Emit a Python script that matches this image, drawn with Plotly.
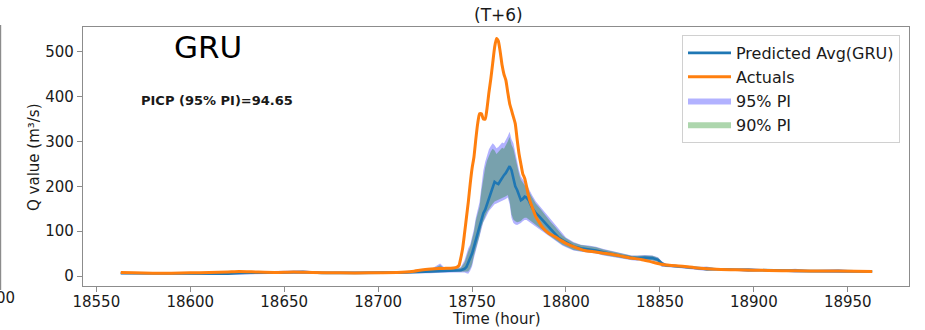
import plotly.graph_objects as go

# ---------------- data ----------------
hours_actual = [18563, 18570, 18580, 18590, 18600, 18610, 18620, 18626, 18635, 18645,
                18655, 18665, 18680, 18695, 18710, 18718, 18724, 18730, 18735, 18740,
                18742, 18743, 18744, 18745, 18746, 18747, 18748, 18749, 18750, 18751,
                18752, 18753, 18754, 18755, 18756, 18757, 18758, 18759, 18760, 18761,
                18762, 18763, 18764, 18765, 18766, 18767, 18768, 18769, 18770, 18771,
                18772, 18773, 18774, 18775, 18776, 18777, 18778, 18779, 18780, 18781,
                18782, 18784, 18786, 18788, 18791, 18794, 18797, 18800, 18805, 18810,
                18815, 18820, 18825, 18830, 18835, 18840, 18845, 18850, 18855, 18862,
                18870, 18880, 18890, 18900, 18915, 18930, 18945, 18963]
actual = [8, 7, 6, 6, 7, 8, 9, 10, 9, 8,
          9, 8, 7, 7, 8, 10, 14, 16, 17, 18,
          20, 23, 40, 62, 95, 130, 165, 205, 240, 265,
          305, 340, 362, 362, 350, 350, 375, 410, 440, 475,
          510, 530, 524, 500, 470, 450, 437, 410, 385, 370,
          355, 340, 305, 273, 250, 228, 218, 200, 180, 165,
          154, 132, 118, 106, 95, 88, 80, 73, 64, 57,
          54, 51, 48, 44, 40, 37, 32, 27, 24, 22,
          18, 15, 14, 13, 12, 11, 11, 10]

hours_pred = [18563, 18575, 18590, 18600, 18612, 18620, 18626, 18632, 18640, 18650,
              18660, 18670, 18690, 18705, 18715, 18722, 18728, 18733, 18736, 18740,
              18744, 18746, 18747, 18748, 18749, 18750, 18751, 18752, 18753, 18754,
              18755, 18756, 18757, 18758, 18759, 18760, 18761, 18762, 18763, 18764,
              18765, 18766, 18767, 18768, 18769, 18770, 18771, 18772, 18773, 18774,
              18775, 18776, 18777, 18778, 18779, 18780, 18782, 18784, 18786, 18788,
              18790, 18792, 18794, 18796, 18798, 18800, 18804, 18808, 18812, 18816,
              18820, 18825, 18830, 18835, 18838, 18842, 18846, 18849, 18851, 18853,
              18860, 18870, 18875, 18880, 18890, 18897, 18905, 18915, 18922, 18930,
              18945, 18955, 18963]
pred_mean = [6, 6, 5, 6, 5, 5, 7, 7, 8, 8,
             9, 7, 7, 7, 8, 9, 10, 12, 12, 12,
             13, 16, 20, 30, 40, 50, 65, 80, 100, 112,
             128, 140, 148, 160, 172, 188, 200, 210, 207, 205,
             212, 220, 225, 230, 238, 245, 236, 215, 200, 192,
             180, 169, 172, 177, 175, 170, 152, 140, 132, 122,
             112, 104, 95, 86, 80, 75, 66, 62, 60, 57,
             53, 48, 44, 41, 40, 41, 40, 36, 28, 24,
             21, 17, 16, 15, 14, 13, 13, 12, 12, 11,
             11, 10, 10]
lower_95 = [4, 4, 3, 4, 2, 2, 3, 4, 5, 5,
            5, 5, 5, 5, 6, 6, 6, 7, 8, 8,
            8, 8, 6, 5, 12, 21, 40, 55, 70, 85,
            105, 120, 128, 138, 145, 150, 155, 160, 162, 164,
            166, 168, 169, 172, 175, 160, 130, 118, 115, 114,
            116, 118, 122, 125, 125, 122, 115, 110, 104, 98,
            91, 85, 78, 72, 68, 64, 57, 54, 52, 50,
            46, 42, 38, 35, 34, 35, 34, 31, 20, 20,
            18, 14, 11, 13, 12, 9, 11, 10, 8, 9,
            7, 8, 8]
upper_95 = [8, 8, 7, 8, 8, 9, 12, 10, 11, 11,
            13, 9, 9, 9, 10, 12, 15, 28, 16, 17,
            20, 35, 50, 62, 70, 85, 105, 130, 150, 165,
            200, 235, 255, 270, 283, 290, 296, 292, 285, 288,
            292, 298, 296, 303, 312, 322, 305, 296, 275, 255,
            236, 222, 215, 210, 205, 196, 180, 166, 156, 145,
            135, 124, 114, 104, 94, 86, 76, 70, 68, 65,
            60, 55, 50, 46, 46, 47, 46, 42, 33, 28,
            24, 20, 21, 17, 16, 18, 15, 14, 16, 13,
            15, 12, 12]
lower_90 = [4.5, 4.5, 3.5, 4.5, 3, 3, 4, 5, 6, 6,
            6, 5.5, 5.5, 5.5, 6.5, 7, 7, 8, 9, 9,
            9, 10, 9, 10, 16, 26, 46, 60, 75, 90,
            110, 124, 133, 143, 150, 156, 161, 166, 168, 170,
            172, 174, 175, 178, 181, 167, 137, 126, 122, 120,
            121, 123, 127, 130, 130, 127, 119, 114, 108, 101,
            94, 88, 81, 74, 70, 66, 58, 55, 53, 51,
            47, 43, 39, 36, 35, 36, 35, 32, 22, 21,
            19, 15, 12, 13.5, 12.5, 10, 11.5, 10.5, 9, 9.5,
            8, 8.5, 8.5]
upper_90 = [7.5, 7.5, 6.5, 7.5, 7, 8, 11, 9, 10, 10,
            12, 8.5, 8.5, 8.5, 9.5, 11, 14, 24, 15, 16,
            18, 30, 45, 55, 65, 80, 98, 124, 142, 155,
            190, 222, 242, 258, 270, 278, 284, 280, 272, 276,
            280, 286, 284, 291, 300, 310, 293, 284, 264, 245,
            228, 215, 209, 204, 199, 191, 175, 161, 152, 141,
            131, 120, 111, 101, 91, 84, 74, 69, 67, 64,
            59, 54, 49, 45, 45, 46, 45, 41, 32, 27,
            23, 19, 20, 16.5, 15.5, 17, 14.5, 13.5, 15, 12.5,
            14, 11.5, 11.5]

x_ticks = [18550, 18600, 18650, 18700, 18750, 18800, 18850, 18900, 18950]
y_ticks = [0, 100, 200, 300, 400, 500]

# ---------------- styling / layout ----------------
W, H = 925, 330
L, R, T, B = 83, 16, 27, 44
PW, PH = W - L - R, H - T - B
FONT = "DejaVu Sans"
TXT = "#1a1a1a"
SPINE = "#8c8c8c"


def px2paper_x(px):
    return (px - L) / PW


def px2paper_y(py):
    return (H - B - py) / PH


fig = go.Figure()

# 95% PI band
fig.add_trace(go.Scatter(x=hours_pred, y=lower_95, mode="lines", line=dict(width=0),
                         showlegend=False, hoverinfo="skip"))
fig.add_trace(go.Scatter(x=hours_pred, y=upper_95, mode="lines", line=dict(width=0),
                         fill="tonexty", fillcolor="rgba(0,0,255,0.30)",
                         name="95% PI", legendrank=3))
# 90% PI band
fig.add_trace(go.Scatter(x=hours_pred, y=lower_90, mode="lines", line=dict(width=0),
                         showlegend=False, hoverinfo="skip"))
fig.add_trace(go.Scatter(x=hours_pred, y=upper_90, mode="lines", line=dict(width=0),
                         fill="tonexty", fillcolor="rgba(0,128,0,0.32)",
                         name="90% PI", legendrank=4))
# mean prediction
fig.add_trace(go.Scatter(x=hours_pred, y=pred_mean, mode="lines",
                         line=dict(color="#1f77b4", width=2.6),
                         name="Predicted Avg(GRU)", legendrank=1))
# actuals
fig.add_trace(go.Scatter(x=hours_actual, y=actual, mode="lines",
                         line=dict(color="#ff7f0e", width=3, shape="spline", smoothing=0.5),
                         name="Actuals", legendrank=2))

axis_common = dict(
    showgrid=False, zeroline=False, showline=True, linecolor=SPINE, linewidth=1.2,
    mirror=True, ticks="outside", ticklen=5, tickwidth=1.2, tickcolor=SPINE,
    tickfont=dict(family=FONT, size=15, color=TXT), automargin=False,
)

fig.update_layout(
    template="none",
    width=W, height=H,
    margin=dict(l=L, r=R, t=T, b=B, pad=0, autoexpand=False),
    paper_bgcolor="white", plot_bgcolor="white",
    font=dict(family=FONT, color=TXT),
    xaxis=dict(range=[18542.9, 18982.6], tickvals=x_ticks,
               ticktext=[str(v) for v in x_ticks], ticklabelstandoff=-3, **axis_common),
    yaxis=dict(range=[-22.3, 555.6], tickvals=y_ticks,
               ticktext=[str(v) for v in y_ticks], **axis_common),
    legend=dict(x=px2paper_x(900), xanchor="right", y=px2paper_y(35), yanchor="top",
                bgcolor="rgba(255,255,255,0.85)", bordercolor="#d0d0d0", borderwidth=1,
                font=dict(family=FONT, size=16, color=TXT),
                traceorder="normal", itemwidth=43, tracegroupgap=0),
    showlegend=True,
)

# title and axis titles as positioned text
fig.add_annotation(text="(T+6)", xref="paper", yref="paper",
                   x=px2paper_x(498), y=px2paper_y(15), xanchor="center", yanchor="middle",
                   showarrow=False, font=dict(family=FONT, size=17, color=TXT))
fig.add_annotation(text="Time (hour)", xref="paper", yref="paper",
                   x=px2paper_x(496), y=px2paper_y(319), xanchor="center", yanchor="middle",
                   showarrow=False, font=dict(family=FONT, size=15, color=TXT))
fig.add_annotation(text="Q value (m³/s)", xref="paper", yref="paper", textangle=-90,
                   x=px2paper_x(34), y=px2paper_y(157), xanchor="center", yanchor="middle",
                   showarrow=False, font=dict(family=FONT, size=15, color=TXT))

fig.add_annotation(text="GRU", xref="paper", yref="paper",
                   x=px2paper_x(208), y=px2paper_y(47), xanchor="center", yanchor="middle",
                   showarrow=False, font=dict(family=FONT, size=31, color="black"))
fig.add_annotation(text="<b>PICP (95% PI)=94.65</b>", xref="paper", yref="paper",
                   x=px2paper_x(217), y=px2paper_y(100), xanchor="center", yanchor="middle",
                   showarrow=False, font=dict(family=FONT, size=13, color="#1a1a1a"))

# neighbouring panel remnants at the left edge (cropped figure)
fig.add_annotation(text="00", xref="paper", yref="paper",
                   x=px2paper_x(16.5), y=px2paper_y(298), xanchor="right", yanchor="middle",
                   showarrow=False, font=dict(family=FONT, size=15, color=TXT))
fig.add_shape(type="line", xref="paper", yref="paper",
              x0=px2paper_x(0.6), x1=px2paper_x(0.6), y0=px2paper_y(290), y1=px2paper_y(25),
              line=dict(color=SPINE, width=1.2))

fig.write_html("out.html")
